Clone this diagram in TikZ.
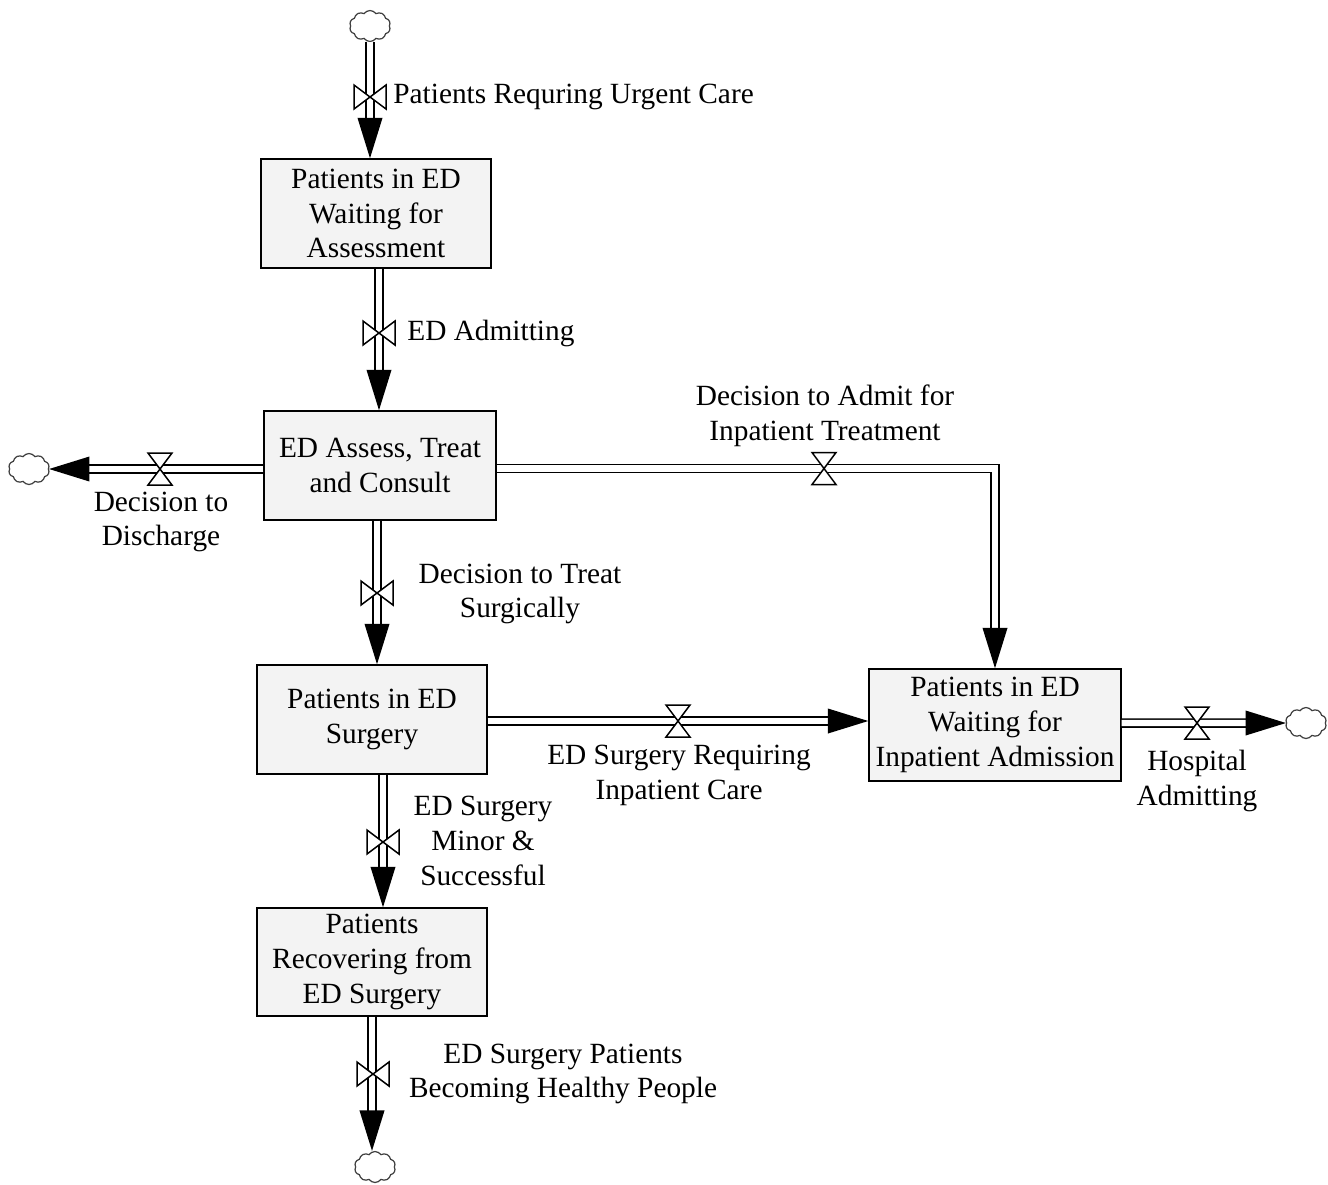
\documentclass[tikz,border=0pt]{standalone}
\usepackage{fontspec}
\setmainfont{Liberation Serif}
\usetikzlibrary{arrows.meta,shapes.symbols,positioning}

\definecolor{stockfill}{RGB}{243,243,243}

\tikzset{
  stock/.style={draw, line width=0.85pt, fill=stockfill, align=center,
    inner sep=0pt, minimum width=4.6cm, minimum height=2.18cm},
  pipe/.style={double, double distance=3.5pt, line width=0.95pt,
    -{Triangle[length=23pt,width=14pt]}},
  sink/.style={cloud, cloud puffs=10, cloud puff arc=110, cloud ignores aspect,
    draw=black!75, line width=0.7pt, minimum width=0.82cm, minimum height=0.62cm,
    inner sep=0pt},
  flowlabel/.style={align=center, inner sep=0pt},
  vvalve/.pic={\draw[fill=white, line width=0.85pt]
    (-16,-12) -- (-16,12) -- (16,-12) -- (16,12) -- cycle;},
  hvalve/.pic={\draw[fill=white, line width=0.85pt]
    (-12,-16) -- (12,-16) -- (-12,16) -- (12,16) -- cycle;},
}

\begin{document}
\begin{tikzpicture}[x=0.02cm, y=-0.02cm, font=\fontsize{16.7}{19.8}\selectfont]
\useasboundingbox (0,0) rectangle (1328,1184);

% Stocks
\node[stock] (s1) at (376,213.5) {Patients in ED\\Waiting for\\Assessment};
\node[stock, minimum width=4.64cm] (s2) at (380,465.5) {ED Assess, Treat\\and Consult};
\node[stock] (s3) at (372,719.5) {Patients in ED\\Surgery};
\node[stock, minimum width=5.04cm, minimum height=2.24cm] (s4) at (995,725)
  {Patients in ED\\Waiting for\\Inpatient Admission};
\node[stock, minimum height=2.16cm] (s5) at (372,962) {Patients\\Recovering from\\ED Surgery};

% Clouds
\node[sink] (cTop) at (370,26) {};
\node[sink] (cLeft) at (29,469) {};
\node[sink] (cRight) at (1306,723) {};
\node[sink] (cBot) at (375,1167) {};

% Pipes
\draw[pipe] (cTop) -- (cTop |- s1.north);
\draw[pipe] ([xshift=0.06cm]s1.south) -- ([xshift=0.06cm]s1.south |- s2.north);
\draw[pipe] ([yshift=-0.07cm]s2.west) -- ([yshift=-0.07cm]s2.west -| cLeft.east);
\draw[pipe] ([yshift=-0.06cm]s2.east) -| (s4.north);
\draw[pipe] ([xshift=-0.06cm]s2.south) -- ([xshift=-0.06cm]s2.south |- s3.north);
\draw[pipe] ([yshift=-0.03cm]s3.east) -- ([yshift=-0.03cm]s3.east -| s4.west);
\draw[pipe] ([yshift=0.04cm]s4.east) -- (cRight);
\draw[pipe] ([xshift=0.22cm]s3.south) -- ([xshift=0.22cm]s3.south |- s5.north);
\draw[pipe] (s5.south) -- (s5.south |- cBot.north);

% Valves
\coordinate (vUrgent) at (370,97);
\coordinate (vAdmitting) at (379,333);
\coordinate (vDischarge) at (160,469);
\coordinate (vAdmit) at (824,468.5);
\coordinate (vTreat) at (377,593);
\coordinate (vSurgInp) at (678,721);
\coordinate (vHospital) at (1197,723);
\coordinate (vMinor) at (383,842);
\coordinate (vHealthy) at (373,1074);
\pic at (vUrgent) {vvalve};
\pic at (vAdmitting) {vvalve};
\pic at (vTreat) {vvalve};
\pic at (vMinor) {vvalve};
\pic at (vHealthy) {vvalve};
\pic at (vDischarge) {hvalve};
\pic at (vAdmit) {hvalve};
\pic at (vSurgInp) {hvalve};
\pic at (vHospital) {hvalve};

% Flow names
\node[flowlabel, anchor=west] (lUrgent) at (393,97) {Patients Requring Urgent Care};
\node[flowlabel, anchor=west] (lAdmitting) at (407,333) {ED Admitting};
\node[flowlabel] (lDischarge) at (161,522) {Decision to\\Discharge};
\node[flowlabel] (lAdmit) at (825,416) {Decision to Admit for\\Inpatient Treatment};
\node[flowlabel] (lTreat) at (520,594) {Decision to Treat\\Surgically};
\node[flowlabel] (lSurgInp) at (679,775) {ED Surgery Requiring\\Inpatient Care};
\node[flowlabel] (lHospital) at (1197,781) {Hospital\\Admitting};
\node[flowlabel] (lMinor) at (483,841) {ED Surgery\\Minor \&\\Successful};
\node[flowlabel] (lHealthy) at (563,1074) {ED Surgery Patients\\Becoming Healthy People};
\end{tikzpicture}
\end{document}
